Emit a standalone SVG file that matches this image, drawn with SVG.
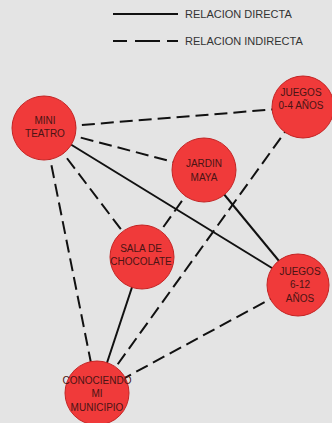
<svg xmlns="http://www.w3.org/2000/svg" width="332" height="423" viewBox="0 0 332 423">
<style>
.bg{fill:#e4e4e4}
.e{stroke:#111;stroke-width:2;fill:none}
.d{stroke-dasharray:13 6}
.n{fill:#f03a3a;stroke:#c42424;stroke-width:1}
.t{font-family:"Liberation Sans",Arial,sans-serif;font-size:10px;fill:#4a1414;text-anchor:middle}
.lg{font-family:"Liberation Sans",Arial,sans-serif;font-size:11px;fill:#333}
</style>
<rect class="bg" x="0" y="0" width="332" height="423"/>
<g id="legend">
<line class="e" x1="113" y1="14" x2="178" y2="14"/>
<text class="lg" x="185" y="18">RELACION DIRECTA</text>
<line class="e" x1="113" y1="41" x2="127" y2="41"/>
<line class="e" x1="135" y1="41" x2="160" y2="41"/>
<line class="e" x1="167" y1="41" x2="178" y2="41"/>
<text class="lg" x="185" y="45">RELACION INDIRECTA</text>
</g>
<g id="connectors">
<line class="e d" x1="44" y1="128" x2="303" y2="107"/>
<line class="e d" x1="44" y1="128" x2="204" y2="170"/>
<line class="e" x1="44" y1="128" x2="298" y2="284"/>
<line class="e d" x1="44" y1="128" x2="142" y2="257"/>
<line class="e d" x1="44" y1="128" x2="97" y2="393"/>
<line class="e d" x1="204" y1="170" x2="142" y2="257"/>
<line class="e" x1="204" y1="170" x2="298" y2="284"/>
<line class="e d" x1="303" y1="107" x2="97" y2="393"/>
<line class="e" x1="142" y1="257" x2="97" y2="393"/>
<line class="e d" x1="298" y1="284" x2="97" y2="393"/>
</g>
<g id="mini-teatro">
<circle class="n" cx="44" cy="128" r="32"/>
<text class="t" x="45" y="124">MINI</text>
<text class="t" x="45" y="137">TEATRO</text>
</g>
<g id="juegos-0-4">
<circle class="n" cx="303" cy="107" r="31"/>
<text class="t" x="301" y="96">JUEGOS</text>
<text class="t" x="301" y="109">0-4 AÑOS</text>
</g>
<g id="jardin-maya">
<circle class="n" cx="204" cy="170" r="32"/>
<text class="t" x="204" y="167">JARDIN</text>
<text class="t" x="204" y="181">MAYA</text>
</g>
<g id="sala-chocolate">
<circle class="n" cx="142" cy="257" r="32"/>
<text class="t" x="141" y="252">SALA DE</text>
<text class="t" x="141" y="265">CHOCOLATE</text>
</g>
<g id="juegos-6-12">
<circle class="n" cx="298" cy="285" r="31"/>
<text class="t" x="300" y="275">JUEGOS</text>
<text class="t" x="300" y="288">6-12</text>
<text class="t" x="300" y="302">AÑOS</text>
</g>
<g id="conociendo">
<circle class="n" cx="97" cy="393" r="32"/>
<text class="t" x="97" y="384">CONOCIENDO</text>
<text class="t" x="97" y="397">MI</text>
<text class="t" x="97" y="411">MUNICIPIO</text>
</g>
</svg>
